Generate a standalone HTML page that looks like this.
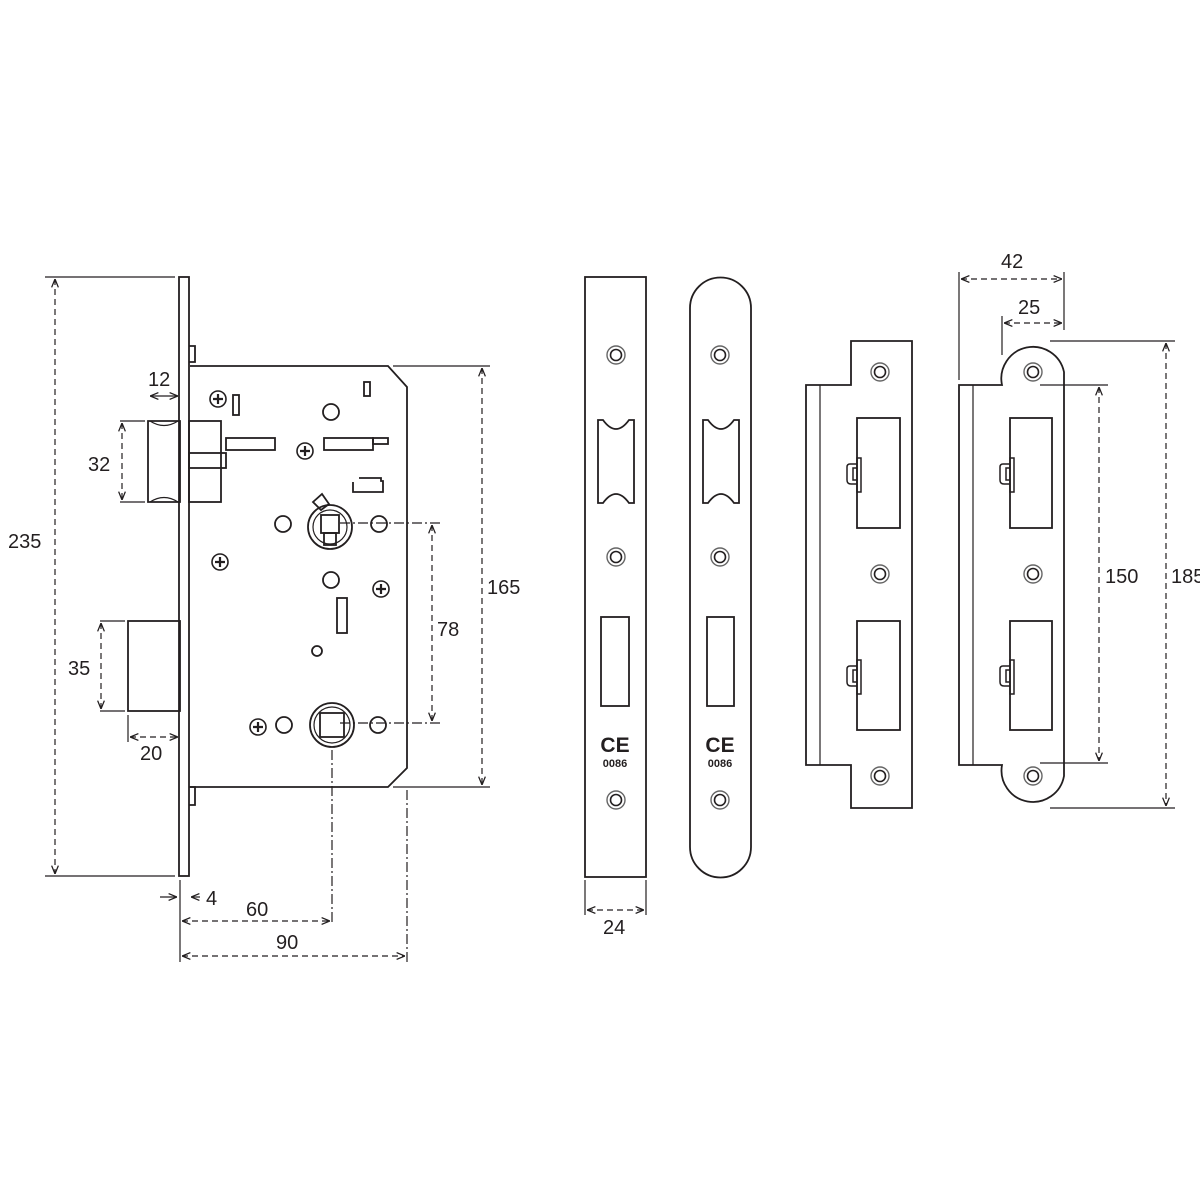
<!DOCTYPE html>
<html><head><style>body{margin:0;background:#fff}svg{display:block}text{font-family:"Liberation Sans",sans-serif;fill:#231f20}</style></head>
<body>
<svg width="1200" height="1200" viewBox="0 0 1200 1200" xmlns="http://www.w3.org/2000/svg">
<defs>
<marker id="a" viewBox="0 0 10 10" refX="10" refY="5" markerWidth="7" markerHeight="7" orient="auto-start-reverse"><path d="M0,1 L10,5 L0,9" fill="none" stroke="#231f20" stroke-width="1.5"/></marker>
<g id="scr"><circle r="8" fill="none" stroke="#231f20" stroke-width="1.6"/><path d="M-5,0H5M0,-5V5" stroke="#231f20" stroke-width="2.2"/></g>
<g id="hole"><circle r="9" fill="none" stroke="#666" stroke-width="1.4"/><circle r="5.5" fill="none" stroke="#231f20" stroke-width="1.6"/></g>
<g id="hook" fill="none" stroke="#231f20" stroke-width="1.5"><rect x="-2" y="-12" width="4" height="34"/><path d="M-2,-6H-9Q-12,-6 -12,-3V10Q-12,14 -8,14H-2M-2,-2H-6V10H-2"/></g>
</defs>
<g fill="none" stroke="#231f20" stroke-width="1.8">
<rect x="179" y="277" width="10" height="599"/>
<path d="M189,346H195V362H189M189,787H195V805H189"/>
<path d="M190,366H388L407,387V768L388,787H190"/>
<path d="M148,421H180V502H148Z"/>
<path d="M150,421Q164,430 178,421M150,502Q164,493 178,502" stroke-width="1.2"/>
<rect x="189" y="421" width="32" height="81"/>
<rect x="189" y="453" width="37" height="15"/>
<rect x="128" y="621" width="52" height="90"/>
<rect x="233" y="395" width="6" height="20"/>
<rect x="364" y="382" width="6" height="14"/>
<circle cx="331" cy="412" r="8"/>
<rect x="226" y="438" width="49" height="12"/>
<rect x="324" y="438" width="49" height="12"/><rect x="373" y="438" width="15" height="6"/>
<path d="M353,482V492H383V481L381,481V478H359"/>
<circle cx="283" cy="524" r="8"/><circle cx="379" cy="524" r="8"/>
<circle cx="330" cy="527" r="22"/><circle cx="330" cy="527" r="17" stroke-width="1.2"/>
<rect x="321" y="515" width="18" height="18"/><rect x="324" y="533" width="12" height="12"/>
<path d="M313,502L322,494L329,504L321,510Z"/>
<circle cx="331" cy="580" r="8"/>
<rect x="337" y="598" width="10" height="35"/>
<circle cx="317" cy="651" r="5"/>
<circle cx="284" cy="725" r="8"/><circle cx="378" cy="725" r="8"/>
<circle cx="332" cy="725" r="22"/><circle cx="332" cy="725" r="18" stroke-width="1.2"/>
<rect x="320" y="713" width="24" height="24"/>
</g>
<use href="#scr" x="218" y="399"/><use href="#scr" x="305" y="451"/><use href="#scr" x="220" y="562"/><use href="#scr" x="381" y="589"/><use href="#scr" x="258" y="727"/>
<g fill="none" stroke="#231f20" stroke-width="1.2">
<path d="M45,277H175M45,876H175M393,366H490M393,787H490M100,621H125M100,711H125M120,421H145M120,502H145M128,715V742M180,880V962"/>
<path d="M332,750V925M407,790V962M340,523H440M340,723H440" stroke-dasharray="10,3,2,3"/>
<g stroke-dasharray="6,4" marker-start="url(#a)" marker-end="url(#a)">
<path d="M55,279V874"/><path d="M482,368V785"/><path d="M432,525V721"/><path d="M122,423V500"/><path d="M101,623V709"/>
<path d="M182,921H330"/><path d="M182,956H405"/><path d="M130,737H178"/>
</g>
<path d="M150,396H178" marker-start="url(#a)" marker-end="url(#a)"/>
<path d="M160,897H177" marker-end="url(#a)"/><path d="M200,897H191" marker-end="url(#a)"/>
</g>
<g font-size="20">
<text x="8" y="548">235</text><text x="487" y="594">165</text><text x="437" y="636">78</text>
<text x="148" y="386">12</text><text x="88" y="471">32</text><text x="68" y="675">35</text>
<text x="140" y="760">20</text><text x="206" y="905">4</text><text x="246" y="916">60</text><text x="276" y="949">90</text>
</g>
<g fill="none" stroke="#231f20" stroke-width="1.8">
<rect x="585" y="277" width="61" height="600"/>
<path d="M690,308A30.5,30.5 0 0 1 751,308V847A30.5,30.5 0 0 1 690,847Z"/>
<path d="M598,420H603Q616,438 629,420H634V503H629Q616,485 603,503H598Z"/>
<path d="M703,420H708Q721,438 734,420H739V503H734Q721,485 708,503H703Z"/>
<rect x="601" y="617" width="28" height="89"/><rect x="707" y="617" width="27" height="89"/>
</g>
<use href="#hole" x="616" y="355"/><use href="#hole" x="616" y="557"/><use href="#hole" x="616" y="800"/>
<use href="#hole" x="720" y="355"/><use href="#hole" x="720" y="557"/><use href="#hole" x="720" y="800"/>
<g font-weight="bold" text-anchor="middle"><text x="615" y="752" font-size="21">CE</text><text x="615" y="767" font-size="11">0086</text>
<text x="720" y="752" font-size="21">CE</text><text x="720" y="767" font-size="11">0086</text></g>
<g fill="none" stroke="#231f20" stroke-width="1.2"><path d="M585,880V915M646,880V915"/><path d="M587,910H644" stroke-dasharray="6,4" marker-start="url(#a)" marker-end="url(#a)"/></g>
<text x="603" y="934" font-size="20">24</text>
<g fill="none" stroke="#231f20" stroke-width="1.8">
<path d="M806,385H851V341H912V808H851V765H806Z"/><path d="M820,385V765" stroke-width="1.2"/>
<rect x="857" y="418" width="43" height="110"/><rect x="857" y="621" width="43" height="109"/>
<path d="M959,385H1002A31,31 0 0 1 1064,372V776A31,31 0 0 1 1002,765H959Z"/><path d="M973,385V765" stroke-width="1.2"/>
<rect x="1010" y="418" width="42" height="110"/><rect x="1010" y="621" width="42" height="109"/>
</g>
<use href="#hook" x="859" y="470"/><use href="#hook" x="859" y="672"/><use href="#hook" x="1012" y="470"/><use href="#hook" x="1012" y="672"/>
<use href="#hole" x="880" y="372"/><use href="#hole" x="880" y="574"/><use href="#hole" x="880" y="776"/>
<use href="#hole" x="1033" y="372"/><use href="#hole" x="1033" y="574"/><use href="#hole" x="1033" y="776"/>
<g fill="none" stroke="#231f20" stroke-width="1.2">
<path d="M959,272V380M1064,272V330M1002,316V355M1050,341H1175M1040,385H1108M1040,763H1108M1050,808H1175"/>
<g stroke-dasharray="6,4" marker-start="url(#a)" marker-end="url(#a)">
<path d="M961,279H1062"/><path d="M1004,323H1062"/><path d="M1099,387V761"/><path d="M1166,343V806"/>
</g>
</g>
<g font-size="20"><text x="1001" y="268">42</text><text x="1018" y="314">25</text><text x="1105" y="583">150</text><text x="1171" y="583">185</text></g>
</svg>
</body></html>
